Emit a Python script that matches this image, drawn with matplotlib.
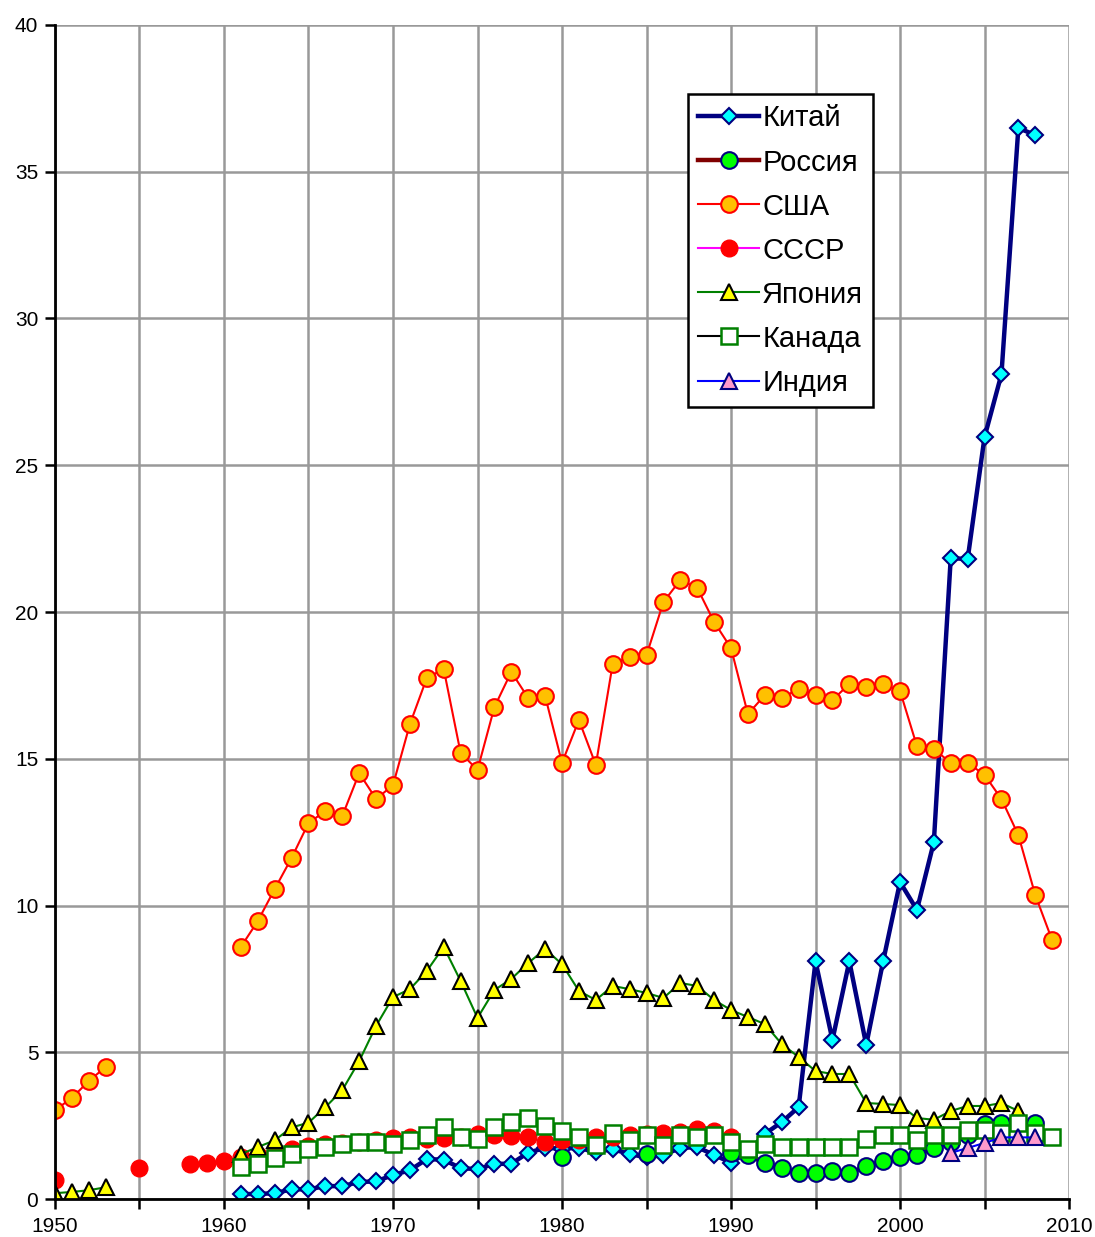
import numpy as np
import matplotlib
matplotlib.use('Agg')
import matplotlib.pyplot as plt

nan = np.nan

# Data
china_years = np.arange(1961, 2009)
china = [0.17, 0.17, 0.2, 0.33, 0.33, 0.44, 0.44, 0.58, 0.6, 0.82,
         0.98, 1.36, 1.34, 1.05, 1.02, 1.2, 1.2, 1.58, 1.74, 1.72,
         1.74, 1.6, 1.7, 1.53, 1.42, 1.5, 1.74, 1.77, 1.5, 1.24,
         1.6, 2.22, 2.62, 3.13, 8.1, 5.42, 8.1, 5.25, 8.1, 10.8,
         9.85, 12.16, 21.84, 21.8, 25.96, 28.1, 36.49, 36.25]

russia_years = np.arange(1980, 2009)
russia = [1.42, nan, nan, nan, nan, 1.55, nan, nan, nan, nan,
          1.57, 1.5, 1.23, 1.05, 0.88, 0.88, 0.95, 0.88, 1.12, 1.28,
          1.43, 1.5, 1.74, 1.94, 2.18, 2.55, 2.6, 2.6, 2.6]

usa_years = np.arange(1950, 2010)
usa = [3.03, 3.44, 4.02, 4.5, nan, nan, nan, nan, nan, nan,
       nan, 8.59, 9.47, 10.56, 11.62, 12.81, 13.22, 13.05, 14.51, 13.63,
       14.1, 16.18, 17.75, 18.06, 15.2, 14.62, 16.76, 17.96, 17.07, 17.14,
       14.86, 16.32, 14.79, 18.23, 18.47, 18.53, 20.34, 21.09, 20.82, 19.66,
       18.77, 16.52, 17.17, 17.07, 17.38, 17.17, 17.0, 17.55, 17.44, 17.55,
       17.31, 15.43, 15.33, 14.86, 14.86, 14.45, 13.63, 12.4, 10.36, 8.82]

ussr_years = np.arange(1950, 1991)
ussr = [0.65, nan, nan, nan, nan, 1.05, nan, nan, 1.19, 1.23,
        1.3, 1.43, 1.5, 1.6, 1.7, 1.82, 1.88, 1.92, 1.95, 2.0,
        2.07, 2.12, 2.05, 2.08, 2.1, 2.2, 2.18, 2.15, 2.1, 1.95,
        2.0, 2.0, 2.1, 2.12, 2.18, 2.2, 2.25, 2.28, 2.38, 2.32,
        2.1]

japan_years = np.arange(1950, 2008)
japan = [0.2, 0.24, 0.3, 0.4, nan, nan, nan, nan, nan, nan,
         nan, 1.53, 1.77, 2.0, 2.44, 2.6, 3.13, 3.71, 4.7, 5.9,
         6.88, 7.15, 7.77, 8.59, 7.43, 6.17, 7.12, 7.5, 8.04, 8.52,
         8.0, 7.09, 6.78, 7.26, 7.15, 7.02, 6.85, 7.36, 7.26, 6.78,
         6.44, 6.2, 5.96, 5.28, 4.84, 4.36, 4.26, 4.26, 3.27, 3.24,
         3.2, 2.76, 2.7, 3.0, 3.17, 3.17, 3.27, 3.0]

canada_years = np.arange(1961, 2010)
canada = [1.1, 1.19, 1.39, 1.53, 1.7, 1.77, 1.87, 1.95, 1.95, 1.88,
          2.02, 2.18, 2.45, 2.1, 2.04, 2.45, 2.62, 2.75, 2.49, 2.32,
          2.12, 1.84, 2.25, 2.0, 2.18, 1.84, 2.18, 2.1, 2.18, 1.94,
          1.7, 1.87, 1.77, 1.77, 1.77, 1.77, 1.77, 2.04, 2.18, 2.18,
          2.0, 2.18, 2.18, 2.35, 2.35, 2.25, 2.6, 2.25, 2.1]

india_years = np.arange(2003, 2009)
india = [1.57, 1.74, 1.91, 2.1, 2.1, 2.1]

########################################################################################

plt.rcParams['font.family'] = ['Liberation Sans', 'DejaVu Sans']

fig = plt.figure(figsize=(10.95, 12.37), dpi=100)
ax = fig.add_axes([0.0502, 0.0307, 0.9261, 0.9491])

ax.plot(china_years, china, color='#000080', lw=3.2, marker='D', ms=8,
        mfc='#00FFFF', mec='#000080', mew=1.5, label='Китай')
ax.plot(russia_years, russia, color='#800000', lw=3.2, marker='o', ms=12,
        mfc='#00FF00', mec='#000080', mew=1.5, label='Россия')
ax.plot(usa_years, usa, color='#FF0000', lw=1.5, marker='o', ms=12,
        mfc='#FFC000', mec='#FF0000', mew=1.5, label='США')
ax.plot(ussr_years, ussr, color='#FF00FF', lw=1.5, marker='o', ms=12,
        mfc='#FF0000', mec='#FF0000', mew=1.0, label='СССР')
ax.plot(japan_years, japan, color='#008000', lw=1.5, marker='^', ms=11,
        mfc='#FFFF00', mec='#000000', mew=1.5, label='Япония')
ax.plot(canada_years, canada, color='#000000', lw=1.5, marker='s', ms=11,
        mfc='#FFFFFF', mec='#008000', mew=1.8, label='Канада')
ax.plot(india_years, india, color='#0000FF', lw=1.5, marker='^', ms=11,
        mfc='#FF99CC', mec='#000080', mew=1.5, label='Индия')

ax.set_xlim(1950, 2010)
ax.set_ylim(0, 40)
ax.set_xticks(np.arange(1950, 2011, 5))
ax.set_xticklabels([str(y) if y % 10 == 0 else '' for y in range(1950, 2011, 5)])
ax.set_yticks(np.arange(0, 41, 5))
ax.tick_params(axis='both', labelsize=15, length=7, width=1.8, direction='out')
ax.tick_params(axis='y', pad=5)
ax.tick_params(axis='x', pad=6)

ax.grid(True, color='#999999', lw=1.8)
ax.set_axisbelow(True)
for s in ['top', 'right']:
    ax.spines[s].set_visible(False)
for s in ['left', 'bottom']:
    ax.spines[s].set_linewidth(2)
    ax.spines[s].set_color('black')

leg = ax.legend(loc='upper left', bbox_to_anchor=(0.624, 0.941), borderaxespad=0,
                fontsize=21, frameon=True, fancybox=False, framealpha=1,
                handlelength=2.1, labelspacing=0.55, handletextpad=0.1,
                borderpad=0.35)
leg.get_frame().set_edgecolor('black')
leg.get_frame().set_linewidth(1.8)

plt.savefig('out.png', dpi=100)
